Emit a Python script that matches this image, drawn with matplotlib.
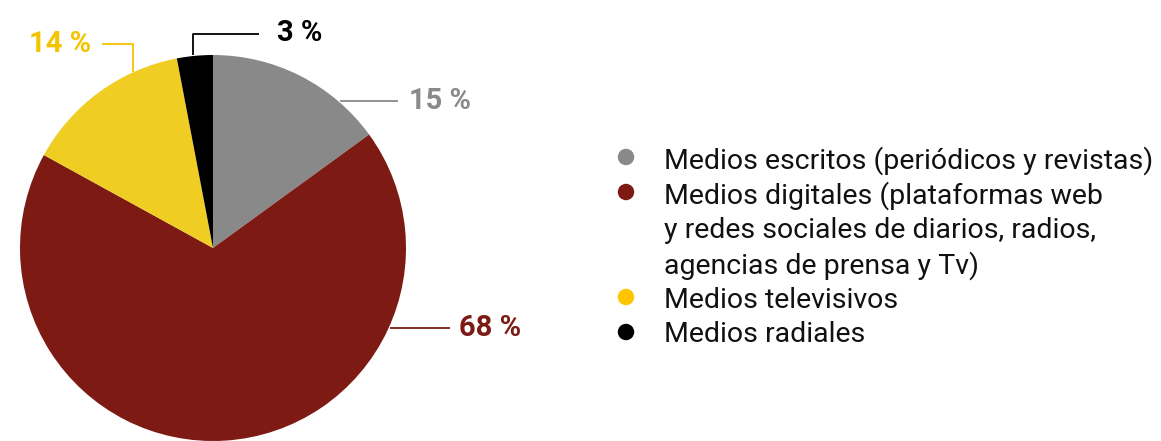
import matplotlib
matplotlib.use("Agg")
import matplotlib.pyplot as plt

# data
categories = [["Medios escritos (periódicos y revistas)"],
              ["Medios digitales (plataformas web",
               "y redes sociales de diarios, radios,",
               "agencias de prensa y Tv)"],
              ["Medios televisivos"],
              ["Medios radiales"]]
shares = [15, 68, 14, 3]
pct_labels = ["15 %", "68 %", "14 %", "3 %"]
colors = ["#898989", "#7c1a13", "#f0cd22", "#000000"]
label_colors = ["#8a8a8a", "#7c1a13", "#f5c400", "#000000"]
legend_dot_colors = ["#898989", "#7c1a13", "#ffc600", "#000000"]

W, H = 1161, 441
fig = plt.figure(figsize=(W / 100, H / 100), dpi=100)
ax = fig.add_axes([0, 0, 1, 1])

def Y(y):
    # pixel row (from top) -> data y
    return H - y

cx, cy, r = 213, 248, 193
ax.pie(shares, colors=colors, startangle=90, counterclock=False,
       center=(cx, Y(cy)), radius=r, frame=True,
       wedgeprops=dict(linewidth=0))
ax.set_xlim(0, W)
ax.set_ylim(0, H)
ax.set_aspect("equal")
ax.axis("off")

# leader lines (pixel coords) and label positions
leaders = [
    ([340, 398], [101, 101]),
    ([390, 450], [328, 328]),
    ([133, 133, 102], [72, 44, 44]),
    ([193, 193, 259], [55, 34, 34]),
]
label_pos = [(409, 101, "left"), (459, 328, "left"), (91, 44, "right"), (277, 33, "left")]

for i in range(len(shares)):
    xs, ys = leaders[i]
    ax.plot(xs, [Y(v) for v in ys], color=label_colors[i], lw=1.3, solid_capstyle="butt")
    lx, ly, ha = label_pos[i]
    ax.text(lx, Y(ly), pct_labels[i], color=label_colors[i],
            fontsize=21, fontweight="bold", family="Roboto", ha=ha, va="center")

# legend
leg_x_dot, leg_x_txt = 626, 664
line_h = 35
row = 157
for i, lines in enumerate(categories):
    ax.scatter([leg_x_dot], [Y(row)], s=140, color=legend_dot_colors[i], edgecolors="none")
    for ln in lines:
        ax.text(leg_x_txt, Y(row), ln, fontsize=20.5, family="Roboto", color="#111111",
                ha="left", va="center_baseline")
        row += line_h

fig.savefig("out.png", dpi=100)
